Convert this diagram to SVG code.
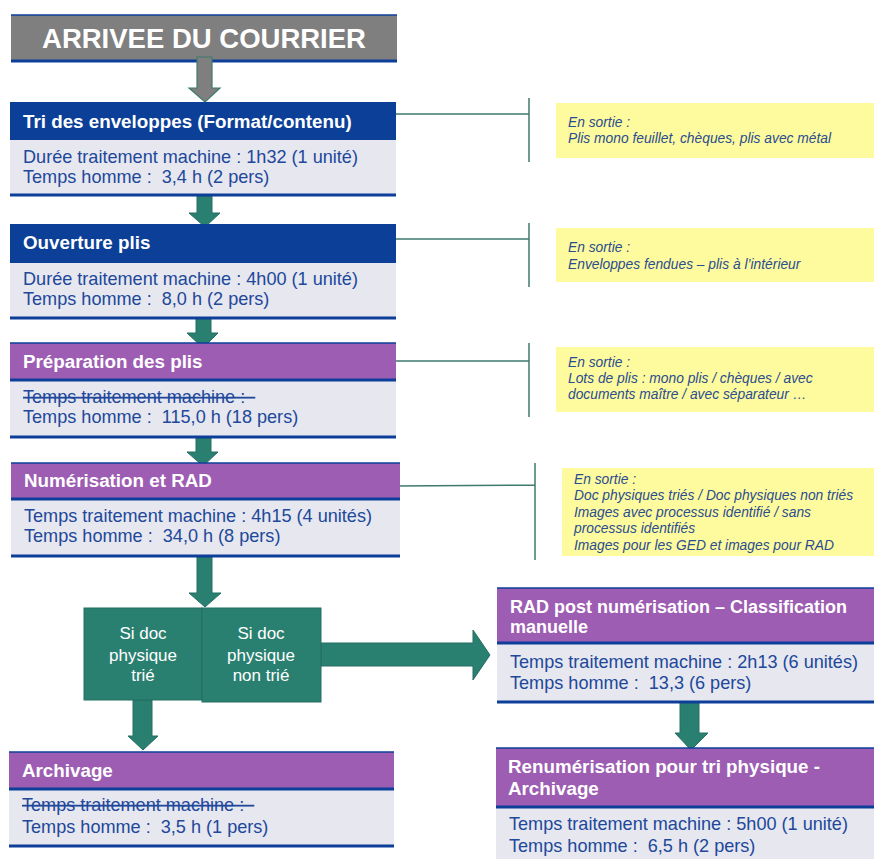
<svg xmlns="http://www.w3.org/2000/svg" width="874" height="859" viewBox="0 0 874 859">
<style>
.bg{fill:#ffffff}
.hb{fill:#0c3f97}
.hp{fill:#9d5db2}
.body{fill:#e6e7ef}
.bl{stroke:#0d3f9a;stroke-width:3;fill:none}
.blt{stroke:#0d3f9a;stroke-width:1.5;fill:none}
.ttl{font-family:"Liberation Sans",Arial,sans-serif;font-weight:bold;font-size:18.8px;fill:#ffffff}
.txt{font-family:"Liberation Sans",Arial,sans-serif;font-size:18.1px;fill:#21489a}
.note{fill:#fdfb9d}
.nt{font-family:"Liberation Sans",Arial,sans-serif;font-style:italic;font-size:13.8px;fill:#2b4c90}
.arr{fill:#2a8070;stroke:#236e62;stroke-width:1}
.garr{fill:#7f7f7f;stroke:#3f7a6e;stroke-width:1.2}
.conn{stroke:#3f7a6e;stroke-width:1.5;fill:none}
.dec{fill:#2a8070;stroke:#236e62;stroke-width:1}
.dt{font-family:"Liberation Sans",Arial,sans-serif;font-size:17px;fill:#ffffff;text-anchor:middle}
</style>
<rect class="bg" x="0" y="0" width="874" height="859"/>

<g id="arrivee">
<rect x="11" y="15" width="386" height="46" fill="#7f7f7f"/>
<line class="blt" x1="11" y1="15" x2="397" y2="15"/>
<line class="bl" x1="11" y1="61" x2="397" y2="61"/>
<text x="204" y="48" text-anchor="middle" font-family="Liberation Sans,Arial,sans-serif" font-weight="bold" font-size="27.5" fill="#ffffff">ARRIVEE DU COURRIER</text>
</g>

<g id="connectors">
<polygon class="garr" points="197,57 212,57 212,88 220,88 205,102 189,88 197,88"/>
<polygon class="arr" points="197,196 212,196 212,213 220,213 205,227 189,213 197,213"/>
<polygon class="arr" points="196,319 211,319 211,333 218,333 203,348 187,333 196,333"/>
<polygon class="arr" points="196,438 211,438 211,452 218,452 203,466 187,452 196,452"/>
<polygon class="arr" points="197,557 212,557 212,593 221,593 205,607 189,593 197,593"/>
<polygon class="arr" points="133,700 152,700 152,736 158,736 143,750 128,736 133,736"/>
<polygon class="arr" points="321,643 473,643 473,630 490,655 473,680 473,666 321,666"/>
<polygon class="arr" points="680,702 699,702 699,733 708,733 691,750 675,733 680,733"/>
<path class="conn" d="M385,114 H529 M529,98 V162"/>
<path class="conn" d="M385,239 H529 M529,223 V287"/>
<path class="conn" d="M385,361 H529 M529,343 V417"/>
<path class="conn" d="M393,486 L535,485 M535,463 V560"/>
</g>

<g id="tri">
<rect class="hb" x="10" y="102" width="386" height="38"/>
<rect class="body" x="10" y="140" width="386" height="55"/>
<line class="bl" x1="10" y1="195" x2="396" y2="195"/>
<text class="ttl" x="23" y="128">Tri des enveloppes (Format/contenu)</text>
<text class="txt" x="23" y="163">Durée traitement machine : 1h32 (1 unité)</text>
<text class="txt" x="23" y="183">Temps homme :&#160; 3,4 h (2 pers)</text>
</g>

<g id="ouverture">
<rect class="hb" x="10" y="224" width="386" height="39"/>
<rect class="body" x="10" y="263" width="386" height="55"/>
<line class="bl" x1="10" y1="318" x2="396" y2="318"/>
<text class="ttl" x="23" y="249">Ouverture plis</text>
<text class="txt" x="23" y="285">Durée traitement machine : 4h00 (1 unité)</text>
<text class="txt" x="23" y="305">Temps homme :&#160; 8,0 h (2 pers)</text>
</g>

<g id="preparation">
<rect class="hp" x="10" y="343" width="386" height="37"/>
<rect class="body" x="10" y="380" width="386" height="57"/>
<line class="blt" x1="10" y1="343" x2="396" y2="343"/>
<line class="bl" x1="10" y1="380" x2="396" y2="380"/>
<line class="bl" x1="10" y1="437" x2="396" y2="437"/>
<text class="ttl" x="23" y="368">Préparation des plis</text>
<text class="txt" x="23" y="403" text-decoration="line-through">Temps traitement machine : &#160;</text>
<text class="txt" x="23" y="423">Temps homme :&#160; 115,0 h (18 pers)</text>
</g>

<g id="numerisation">
<rect class="hp" x="11" y="463" width="389" height="36"/>
<rect class="body" x="11" y="499" width="389" height="57"/>
<line class="blt" x1="11" y1="463" x2="400" y2="463"/>
<line class="bl" x1="11" y1="499" x2="400" y2="499"/>
<line class="bl" x1="11" y1="556" x2="400" y2="556"/>
<text class="ttl" x="24" y="487">Numérisation et RAD</text>
<text class="txt" x="24" y="522">Temps traitement machine : 4h15 (4 unités)</text>
<text class="txt" x="24" y="542">Temps homme :&#160; 34,0 h (8 pers)</text>
</g>

<g id="decision-trie">
<rect class="dec" x="84" y="608" width="118" height="92"/>
<text class="dt" x="143" y="639">Si doc</text>
<text class="dt" x="143" y="661">physique</text>
<text class="dt" x="143" y="681">trié</text>
</g>

<g id="decision-non-trie">
<rect class="dec" x="202" y="608" width="119" height="94"/>
<text class="dt" x="261" y="639">Si doc</text>
<text class="dt" x="261" y="661">physique</text>
<text class="dt" x="261" y="681">non trié</text>
</g>

<g id="archivage">
<rect class="hp" x="9" y="752" width="385" height="37"/>
<rect class="body" x="9" y="789" width="385" height="57"/>
<line class="blt" x1="9" y1="752" x2="394" y2="752"/>
<line class="bl" x1="9" y1="789" x2="394" y2="789"/>
<line class="bl" x1="9" y1="846" x2="394" y2="846"/>
<text class="ttl" x="22" y="777">Archivage</text>
<text class="txt" x="22" y="811" text-decoration="line-through">Temps traitement machine : &#160;</text>
<text class="txt" x="22" y="833">Temps homme :&#160; 3,5 h (1 pers)</text>
</g>

<g id="rad-post">
<rect class="hp" x="497" y="588" width="377" height="55"/>
<rect class="body" x="497" y="643" width="377" height="59"/>
<line class="blt" x1="497" y1="588" x2="874" y2="588"/>
<line class="bl" x1="497" y1="643" x2="874" y2="643"/>
<line class="bl" x1="497" y1="702" x2="874" y2="702"/>
<text class="ttl" x="510" y="613" style="font-size:18px">RAD post numérisation – Classification</text>
<text class="ttl" x="510" y="633" style="font-size:18px">manuelle</text>
<text class="txt" x="510" y="668">Temps traitement machine : 2h13 (6 unités)</text>
<text class="txt" x="510" y="689">Temps homme :&#160; 13,3 (6 pers)</text>
</g>

<g id="renumerisation">
<rect class="hp" x="496" y="748" width="378" height="59"/>
<rect class="body" x="496" y="807" width="378" height="52"/>
<line class="blt" x1="496" y1="748" x2="874" y2="748"/>
<line class="bl" x1="496" y1="807" x2="874" y2="807"/>
<text class="ttl" x="508" y="773">Renumérisation pour tri physique -</text>
<text class="ttl" x="508" y="795">Archivage</text>
<text class="txt" x="509" y="830">Temps traitement machine : 5h00 (1 unité)</text>
<text class="txt" x="509" y="852">Temps homme :&#160; 6,5 h (2 pers)</text>
</g>

<g id="note-tri">
<rect class="note" x="556" y="103" width="318" height="55"/>
<text class="nt" x="568" y="127">En sortie :</text>
<text class="nt" x="568" y="143">Plis mono feuillet, chèques, plis avec métal</text>
</g>

<g id="note-ouverture">
<rect class="note" x="556" y="228" width="318" height="54"/>
<text class="nt" x="568" y="252">En sortie :</text>
<text class="nt" x="568" y="269">Enveloppes fendues – plis à l’intérieur</text>
</g>

<g id="note-preparation">
<rect class="note" x="556" y="347" width="318" height="65"/>
<text class="nt" x="568" y="367">En sortie :</text>
<text class="nt" x="568" y="383">Lots de plis : mono plis / chèques / avec</text>
<text class="nt" x="568" y="399">documents maître / avec séparateur …</text>
</g>

<g id="note-numerisation">
<rect class="note" x="562" y="468" width="312" height="88"/>
<text class="nt" x="574" y="484">En sortie :</text>
<text class="nt" x="574" y="500">Doc physiques triés / Doc physiques non triés</text>
<text class="nt" x="574" y="517">Images avec processus identifié / sans</text>
<text class="nt" x="574" y="533">processus identifiés</text>
<text class="nt" x="574" y="550">Images pour les GED et images pour RAD</text>
</g>
</svg>
